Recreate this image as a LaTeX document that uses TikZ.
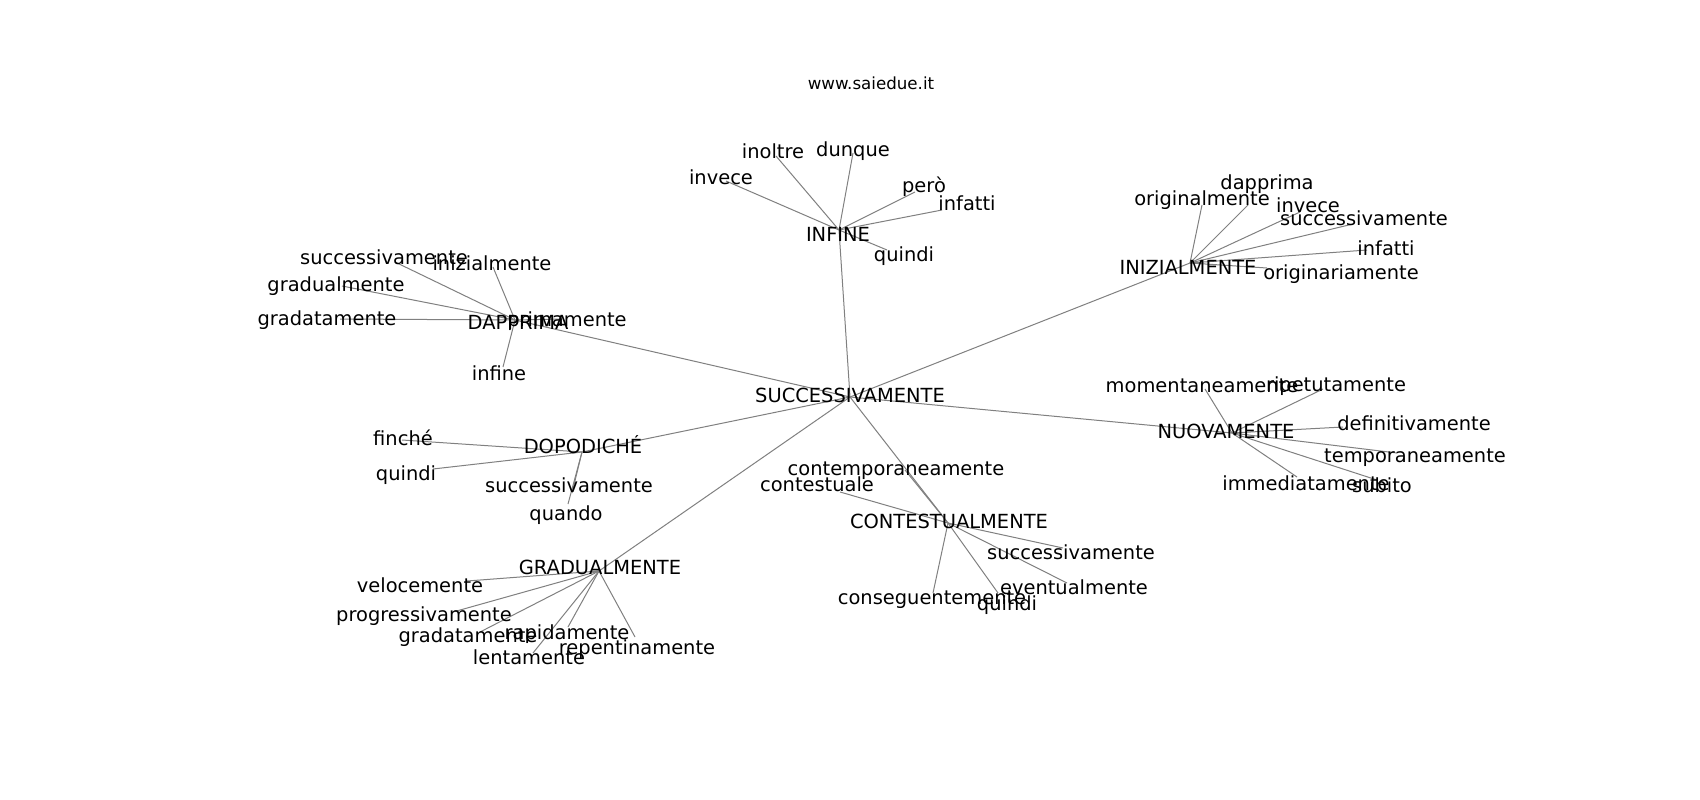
\documentclass[tikz,border=0pt]{standalone}
\usepackage{fontspec}
\setmainfont{DejaVu Sans}
\tikzset{
  lbl/.style={inner sep=0pt, anchor=center, yshift=-4.5pt, text height=0.76em, text depth=0.24em, font=\fontsize{19.44}{23}\selectfont},
  ttl/.style={inner sep=0pt, anchor=center, yshift=-4.5pt, text height=0.76em, text depth=0.24em, font=\fontsize{16.67}{20}\selectfont},
  edge/.style={draw=gray, line width=1pt}
}
\begin{document}
\begin{tikzpicture}[x=1pt,y=-1pt]
\useasboundingbox (0,0) rectangle (1700,800);
\fill[white] (0,0) rectangle (1700,800);
% hubs
\coordinate (c0) at (850,397);
\coordinate (hInf) at (839,230);
\coordinate (hIni) at (1190,263);
\coordinate (hDap) at (515,320);
\coordinate (hDop) at (582,452);
\coordinate (hGra) at (599,571);
\coordinate (hCon) at (948,523);
\coordinate (hNuo) at (1232,433);
% INFINE leaves
\coordinate (eInf1) at (726,181);
\coordinate (eInf2) at (776,156);
\coordinate (eInf3) at (853,153);
\coordinate (eInf4) at (915,192);
\coordinate (eInf5) at (942,210);
\coordinate (eInf6) at (887,250);
% INIZIALMENTE leaves
\coordinate (eIni1) at (1202,205);
\coordinate (eIni2) at (1248,205);
\coordinate (eIni3) at (1300,212);
\coordinate (eIni4) at (1353,224);
\coordinate (eIni5) at (1367,250);
\coordinate (eIni6) at (1267,268);
% DAPPRIMA leaves
\coordinate (eDap1) at (395,262);
\coordinate (eDap2) at (493,267);
\coordinate (eDap3) at (342,286);
\coordinate (eDap4) at (340,319);
\coordinate (eDap5) at (562,319);
\coordinate (eDap6) at (503,367);
% DOPODICHE leaves
\coordinate (eDop1) at (402,440);
\coordinate (eDop2) at (433,469);
\coordinate (eDop3) at (572,493);
\coordinate (eDop4) at (568,504);
% GRADUALMENTE leaves
\coordinate (eGra1) at (467,581);
\coordinate (eGra2) at (453,612);
\coordinate (eGra3) at (480,632);
\coordinate (eGra4) at (568,627);
\coordinate (eGra5) at (533,653);
\coordinate (eGra6) at (635,637);
% CONTESTUALMENTE leaves
\coordinate (eCon1) at (905,470);
\coordinate (eCon2) at (840,492);
\coordinate (eCon3) at (1063,548);
\coordinate (eCon4) at (1067,583);
\coordinate (eCon5) at (933,593);
\coordinate (eCon6) at (998,593);
% NUOVAMENTE leaves
\coordinate (eNuo1) at (1205,389);
\coordinate (eNuo2) at (1323,389);
\coordinate (eNuo3) at (1343,427);
\coordinate (eNuo4) at (1397,453);
\coordinate (eNuo5) at (1297,477);
\coordinate (eNuo6) at (1377,480);
% edges
\foreach \h in {hInf,hIni,hDap,hDop,hGra,hCon,hNuo} \draw[edge] (c0) -- (\h);
\foreach \i in {1,...,6} {
  \draw[edge] (hInf) -- (eInf\i);
  \draw[edge] (hIni) -- (eIni\i);
  \draw[edge] (hDap) -- (eDap\i);
  \draw[edge] (hGra) -- (eGra\i);
  \draw[edge] (hCon) -- (eCon\i);
  \draw[edge] (hNuo) -- (eNuo\i);
}
\foreach \i in {1,...,4} \draw[edge] (hDop) -- (eDop\i);
% labels
\node[ttl] (title) at (871,82) {www.saiedue.it};
\node[lbl] (tC) at (850,395) {SUCCESSIVAMENTE};
\node[lbl] (tInf) at (838,234) {INFINE};
\node[lbl] (tInf1) at (721,177) {invece};
\node[lbl] (tInf2) at (773,151) {inoltre};
\node[lbl] (tInf3) at (853,149) {dunque};
\node[lbl] (tInf4) at (924,185) {però};
\node[lbl] (tInf5) at (967,203) {infatti};
\node[lbl] (tInf6) at (904,254) {quindi};
\node[lbl] (tIni) at (1188,267) {INIZIALMENTE};
\node[lbl] (tIni1) at (1202,198) {originalmente};
\node[lbl] (tIni2) at (1267,182) {dapprima};
\node[lbl] (tIni3) at (1308,205) {invece};
\node[lbl] (tIni4) at (1364,218) {successivamente};
\node[lbl] (tIni5) at (1386,248) {infatti};
\node[lbl] (tIni6) at (1341,272) {originariamente};
\node[lbl] (tDap) at (518,322) {DAPPRIMA};
\node[lbl] (tDap1) at (384,257) {successivamente};
\node[lbl] (tDap2) at (492,263) {inizialmente};
\node[lbl] (tDap3) at (336,284) {gradualmente};
\node[lbl] (tDap4) at (327,318) {gradatamente};
\node[lbl] (tDap5) at (567,319) {primamente};
\node[lbl] (tDap6) at (499,373) {infine};
\node[lbl] (tDop) at (583,446) {DOPODICHÉ};
\node[lbl] (tDop1) at (403,438) {finché};
\node[lbl] (tDop2) at (406,473) {quindi};
\node[lbl] (tDop3) at (569,485) {successivamente};
\node[lbl] (tDop4) at (566,513) {quando};
\node[lbl] (tGra) at (600,567) {GRADUALMENTE};
\node[lbl] (tGra1) at (420,585) {velocemente};
\node[lbl] (tGra2) at (424,614) {progressivamente};
\node[lbl] (tGra3) at (468,635) {gradatamente};
\node[lbl] (tGra4) at (567,632) {rapidamente};
\node[lbl] (tGra5) at (529,657) {lentamente};
\node[lbl] (tGra6) at (637,647) {repentinamente};
\node[lbl] (tCon) at (949,521) {CONTESTUALMENTE};
\node[lbl] (tCon1) at (896,468) {contemporaneamente};
\node[lbl] (tCon2) at (817,484) {contestuale};
\node[lbl] (tCon3) at (1071,552) {successivamente};
\node[lbl] (tCon4) at (1074,587) {eventualmente};
\node[lbl] (tCon5) at (932,597) {conseguentemente};
\node[lbl] (tCon6) at (1007,603) {quindi};
\node[lbl] (tNuo) at (1226,431) {NUOVAMENTE};
\node[lbl] (tNuo1) at (1202,385) {momentaneamente};
\node[lbl] (tNuo2) at (1336,384) {ripetutamente};
\node[lbl] (tNuo3) at (1414,423) {definitivamente};
\node[lbl] (tNuo4) at (1415,455) {temporaneamente};
\node[lbl] (tNuo5) at (1306,483) {immediatamente};
\node[lbl] (tNuo6) at (1382,485) {subito};
\end{tikzpicture}
\end{document}
